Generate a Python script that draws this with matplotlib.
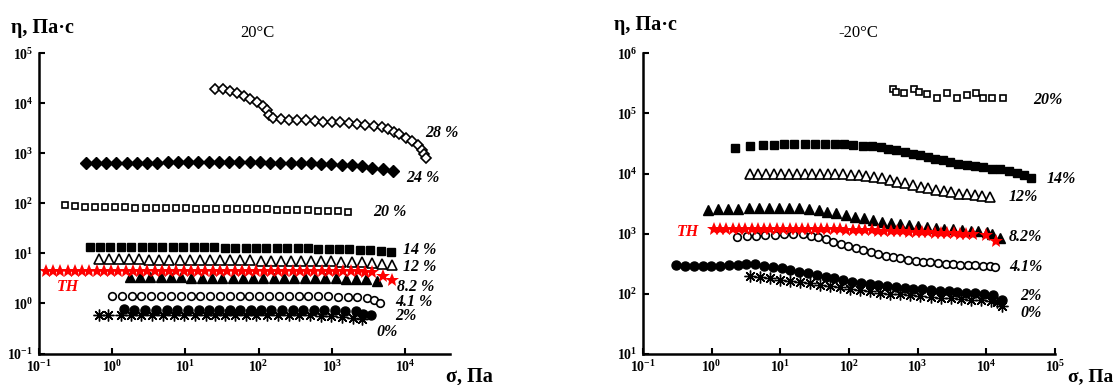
import matplotlib
matplotlib.use('Agg')
import matplotlib.pyplot as plt
from matplotlib.ticker import NullLocator

plt.rcParams['font.family'] = ['Liberation Serif', 'DejaVu Serif']
plt.rcParams['mathtext.fontset'] = 'custom'
plt.rcParams['mathtext.rm'] = 'Liberation Serif'
plt.rcParams['mathtext.bf'] = 'Liberation Serif:bold'
plt.rcParams['mathtext.it'] = 'Liberation Serif:italic'

# ---------------- 20 C : shear stress (Pa) vs viscosity (Pa*s) ----------------
sig28 = [25.4, 32.7, 41.0, 51.4, 63.0, 75.9, 94.2, 115, 132, 139, 157, 201, 258, 337, 442, 578,
         757, 991, 1294, 1694, 2218, 2864, 3707, 4742, 5808, 6950, 8318, 10160, 12450, 14860,
         17020, 18200, 19050]
eta28 = [19200, 19200, 18000, 16300, 14200, 12300, 10800, 8960, 7220, 5850, 5100, 4940, 4720,
         4570, 4570, 4450, 4310, 4170, 4170, 4060, 3810, 3640, 3470, 3320, 3080, 2720, 2410,
         2070, 1730, 1440, 1160, 964, 803]

sig24 = [0.44, 0.606, 0.836, 1.15, 1.59, 2.19, 3.03, 4.17, 5.75, 7.93, 10.9, 15.1, 20.8, 28.7,
         39.5, 54.6, 75.3, 104, 143, 197, 272, 376, 518, 714, 984, 1358, 1875, 2582, 3565, 4909,
         6776]
eta24 = [631, 635, 640, 645, 650, 650, 655, 655, 660, 660, 660, 665, 665, 665, 665, 665, 660,
         660, 655, 650, 645, 640, 630, 615, 605, 593, 575, 550, 515, 495, 437]

sig20 = [0.226, 0.311, 0.428, 0.587, 0.807, 1.11, 1.52, 2.09, 2.88, 3.95, 5.43, 7.46, 10.3,
         14.1, 19.4, 26.6, 36.6, 50.2, 69.0, 94.8, 130, 179, 246, 338, 465, 638, 877, 1205, 1656]
eta20 = [92, 88, 86, 85, 84, 83, 83, 82, 82, 81, 81, 80, 80, 79, 79, 78, 78, 77, 77, 76, 76, 75,
         74, 74, 73, 72, 71, 70, 68]

sig14 = [0.497, 0.689, 0.953, 1.32, 1.83, 2.54, 3.52, 4.88, 6.76, 9.36, 13.0, 18.0, 24.9, 34.5,
         47.9, 66.4, 91.8, 127, 177, 244, 339, 470, 652, 902, 1250, 1734, 2399, 3327, 4613, 6383]
eta14 = [13.4, 13.5, 13.6, 13.6, 13.6, 13.5, 13.5, 13.4, 13.4, 13.3, 13.3, 13.2, 13.2, 13.1,
         13.1, 13.0, 13.0, 12.9, 12.9, 12.8, 12.7, 12.6, 12.5, 12.4, 12.3, 12.1, 11.9, 11.6,
         11.2, 10.7]

sig12 = [0.658, 0.904, 1.24, 1.71, 2.34, 3.22, 4.43, 6.08, 8.36, 11.5, 15.8, 21.7, 29.8, 40.9,
         56.2, 77.3, 106, 146, 200, 275, 378, 520, 714, 982, 1349, 1854, 2547, 3499, 4808, 6607]
eta12 = [7.6, 7.6, 7.6, 7.6, 7.6, 7.5, 7.5, 7.5, 7.5, 7.4, 7.4, 7.4, 7.4, 7.3, 7.3, 7.3, 7.2,
         7.2, 7.2, 7.1, 7.1, 7.0, 7.0, 6.9, 6.8, 6.7, 6.6, 6.4, 6.2, 5.8]

sigTH = [0.125, 0.157, 0.197, 0.248, 0.311, 0.391, 0.491, 0.617, 0.774, 0.973, 1.22, 1.53, 1.93,
         2.42, 3.04, 3.82, 4.80, 6.03, 7.57, 9.51, 11.9, 15.0, 18.8, 23.7, 29.7, 37.3, 46.9,
         58.9, 74.0, 92.9, 117, 147, 184, 231, 290, 365, 458, 575, 723, 908, 1140, 1432, 1799,
         2259, 2838, 3565, 4990, 6607]
etaTH = [4.5, 4.5, 4.5, 4.5, 4.5, 4.5, 4.5, 4.5, 4.5, 4.5, 4.5, 4.5, 4.5, 4.5, 4.5, 4.5, 4.5,
         4.5, 4.5, 4.5, 4.5, 4.5, 4.5, 4.5, 4.5, 4.5, 4.5, 4.5, 4.5, 4.5, 4.5, 4.5, 4.5, 4.5,
         4.5, 4.5, 4.5, 4.5, 4.5, 4.5, 4.5, 4.45, 4.4, 4.4, 4.3, 4.2, 3.5, 2.9]

sig82 = [1.74, 2.40, 3.33, 4.59, 6.35, 8.77, 12.1, 16.7, 23.1, 32.0, 44.2, 61.0, 84.3, 116,
         161, 222, 307, 425, 586, 811, 1119, 1545, 2138, 2951, 4083]
eta82 = [3.4, 3.35, 3.35, 3.35, 3.35, 3.35, 3.3, 3.3, 3.3, 3.3, 3.3, 3.3, 3.3, 3.3, 3.3, 3.3,
         3.25, 3.25, 3.25, 3.2, 3.2, 3.15, 3.1, 3.05, 2.8]

sig41 = [1.00, 1.36, 1.85, 2.52, 3.43, 4.67, 6.36, 8.65, 11.8, 16.0, 21.8, 29.7, 40.4, 55.0,
         74.9, 102, 139, 189, 257, 350, 476, 648, 883, 1202, 1636, 2228, 3013, 3767, 4508]
eta41 = [1.40, 1.40, 1.40, 1.40, 1.40, 1.40, 1.40, 1.40, 1.40, 1.40, 1.40, 1.40, 1.40, 1.40,
         1.40, 1.40, 1.40, 1.40, 1.40, 1.40, 1.40, 1.39, 1.38, 1.37, 1.36, 1.33, 1.27, 1.16, 1.03]

sig2 = [1.44, 2.02, 2.83, 3.96, 5.54, 7.74, 10.8, 15.2, 21.2, 29.1, 40.2, 56.3, 78.0, 108, 149,
        209, 292, 409, 561, 785, 1099, 1503, 2104, 2692, 3373]
eta2 = [0.76, 0.75, 0.75, 0.75, 0.75, 0.75, 0.75, 0.75, 0.75, 0.75, 0.75, 0.75, 0.75, 0.75,
        0.75, 0.75, 0.75, 0.74, 0.74, 0.74, 0.73, 0.72, 0.71, 0.63, 0.575]

sig0 = [0.658, 0.889, 1.32, 1.80, 2.52, 3.53, 4.94, 6.92, 9.68, 13.6, 19.0, 25.4, 34.8, 47.6,
        66.6, 93.3, 131, 183, 256, 358, 501, 701, 982, 1374, 1923, 2547]
eta0 = [0.575, 0.575, 0.575, 0.575, 0.575, 0.575, 0.575, 0.575, 0.575, 0.575, 0.575, 0.575,
        0.575, 0.575, 0.575, 0.575, 0.575, 0.575, 0.575, 0.575, 0.575, 0.57, 0.56, 0.54,
        0.52, 0.48]

# ---------------- -20 C ----------------
rsig20 = [437, 478, 631, 883, 1045, 1384, 1936, 2649, 3793, 5309, 7015, 9078, 12270, 17780]
reta20 = [255000, 224000, 216000, 255000, 230000, 208000, 178000, 216000, 178000, 202000,
          216000, 178000, 178000, 178000]

rsig14 = [2.19, 3.66, 5.56, 7.96, 11.4, 16.0, 22.8, 31.9, 44.6, 62.4, 85.1, 116, 162, 216, 288,
          375, 488, 650, 845, 1074, 1397, 1774, 2312, 3006, 3908, 5212, 6776, 9036, 12050,
          16030, 21380, 27800, 35300, 44900]
reta14 = [27100, 28500, 29700, 30400, 30800, 31200, 31200, 31600, 31600, 31200, 30800, 30100,
          29300, 28500, 27500, 26100, 24500, 22700, 21300, 20000, 18900, 17800, 16700, 15600,
          14700, 13900, 13400, 12800, 12100, 11700, 11100, 10300, 9500, 8360]

rsig12 = [3.66, 4.75, 6.15, 7.98, 10.3, 13.4, 17.4, 22.5, 29.2, 37.8, 49.0, 63.5, 82.2, 107, 138,
          179, 232, 301, 390, 505, 655, 849, 1100, 1426, 1847, 2393, 3105, 4018, 5212, 6745,
          8750, 11350]
reta12 = [10000, 10000, 10000, 10000, 10000, 10000, 10000, 10000, 9950, 9900, 9850, 9800, 9700,
          9600, 9450, 9200, 8800, 8300, 7800, 7300, 6850, 6400, 6000, 5650, 5300, 5050, 4850,
          4650, 4500, 4350, 4200, 4100]

rsig82 = [0.893, 1.25, 1.74, 2.43, 3.50, 4.88, 6.82, 9.51, 13.3, 18.9, 25.8, 36.0, 48.6, 65.7,
          89.7, 122, 165, 225, 304, 415, 548, 740, 1010, 1361, 1841, 2455, 3313, 4467, 5970,
          7620, 10070, 12160, 15670]
reta82 = [2500, 2550, 2600, 2620, 2650, 2680, 2700, 2720, 2720, 2680, 2600, 2480, 2310, 2180,
          2040, 1910, 1800, 1690, 1580, 1520, 1445, 1390, 1340, 1290, 1255, 1220, 1190, 1160,
          1130, 1100, 1050, 972, 855]

rsigTH = [1.07, 1.32, 1.63, 2.02, 2.49, 3.08, 3.81, 4.71, 5.82, 7.19, 8.89, 11.0, 13.6, 16.8,
          20.7, 25.6, 31.7, 39.2, 48.4, 59.8, 74.0, 91.4, 113, 140, 173, 213, 264, 326, 403,
          498, 615, 760, 940, 1161, 1435, 1774, 2193, 2710, 3350, 4140, 5117, 6324, 10000, 13900]
retaTH = [1200, 1200, 1200, 1200, 1200, 1200, 1200, 1200, 1200, 1200, 1200, 1200, 1200, 1200,
          1200, 1200, 1200, 1195, 1190, 1185, 1180, 1175, 1170, 1160, 1150, 1140, 1130, 1120,
          1110, 1100, 1090, 1080, 1070, 1060, 1050, 1040, 1030, 1020, 1010, 1000, 990, 980,
          950, 760]

rsig41 = [2.31, 3.23, 4.41, 6.03, 8.34, 11.4, 15.4, 21.1, 27.5, 35.6, 46.0, 58.9, 75.2, 97.3,
          126, 161, 208, 266, 344, 439, 561, 726, 940, 1200, 1535, 1986, 2565, 3281, 4198,
          5420, 6934, 8954, 11200, 13240]
reta41 = [867, 900, 922, 950, 960, 972, 985, 972, 922, 867, 803, 733, 671, 622, 569, 527, 488,
          458, 429, 408, 388, 368, 354, 340, 333, 324, 316, 308, 304, 300, 297, 293, 289, 278]

rsig2 = [0.304, 0.408, 0.548, 0.736, 0.989, 1.33, 1.78, 2.39, 3.21, 4.32, 5.79, 7.78, 10.4,
         14.0, 18.8, 25.3, 34.0, 45.6, 61.2, 82.2, 110, 148, 199, 267, 359, 482, 647, 869,
         1167, 1567, 2104, 2825, 3793, 5093, 6839, 9183, 12330, 16630]
reta2 = [300, 295, 290, 290, 292, 295, 300, 305, 310, 308, 292, 278, 266, 250, 233, 219, 205,
         194, 181, 170, 158, 152, 145, 139, 133, 128, 125, 122, 119, 116, 113, 110, 106, 104,
         102, 99, 95, 78]

rsig0 = [3.59, 5.03, 7.05, 9.87, 13.8, 19.3, 27.1, 37.9, 53.1, 74.3, 104, 146, 204, 286, 400,
         561, 785, 1099, 1538, 2153, 3020, 4227, 5916, 8279, 11610, 14520, 17180]
reta0 = [197, 192, 182, 173, 164, 157, 149, 141, 134, 128, 121, 115, 110, 105, 101, 97.7, 94,
         90.5, 88.1, 85.9, 83.8, 81.7, 79.5, 77.6, 75.6, 72.8, 62]

W, H = 1119, 385
fig = plt.figure(figsize=(W / 100, H / 100), dpi=100)


def fx(x):
    return x / W


def fy(y):
    return 1 - y / H


ax1 = fig.add_axes([fx(38.7), fy(353.5), fx(411.3), 300.2 / H])
ax2 = fig.add_axes([fx(643), fy(354), fx(412), 300.7 / H])

open_kw = dict(mfc='white', mec='black', mew=1.2, ls='none')
fill_kw = dict(mfc='black', mec='black', ls='none')
star_kw = dict(color='red', marker='*', ms=10, ls='none', mew=0)
ast_kw = dict(color='black', marker=(8, 2, 0), ms=8.5, mew=1.0, ls='none')

# left panel
ax1.plot(sig28, eta28, marker='D', ms=5.5, **open_kw)
ax1.plot(sig24, eta24, marker='D', ms=6.5, **fill_kw)
ax1.plot(sig20, eta20, marker='s', ms=4.8, **open_kw)
ax1.plot(sig14, eta14, marker='s', ms=6, **fill_kw)
ax1.plot(sig12, eta12, marker='^', ms=6.5, **open_kw)
ax1.plot(sig82, eta82, marker='^', ms=7, **fill_kw)
ax1.plot(sig41, eta41, marker='o', ms=5.5, **open_kw)
ax1.plot(sig2, eta2, marker='o', ms=6.5, **fill_kw)
ax1.plot(sig0, eta0, **ast_kw)
ax1.plot(sigTH, etaTH, **star_kw)

# right panel
ax2.plot(rsig20, reta20, marker='s', ms=4.8, **open_kw)
ax2.plot(rsig14, reta14, marker='s', ms=6, **fill_kw)
ax2.plot(rsig12, reta12, marker='^', ms=6.5, **open_kw)
ax2.plot(rsig82, reta82, marker='^', ms=7, **fill_kw)
ax2.plot(rsig41, reta41, marker='o', ms=5.5, **open_kw)
ax2.plot(rsig2, reta2, marker='o', ms=6.5, **fill_kw)
ax2.plot(rsig0, reta0, **ast_kw)
ax2.plot(rsigTH, retaTH, **star_kw)

for ax, xexp, yexp in [(ax1, range(-1, 5), range(-1, 6)), (ax2, range(-1, 6), range(1, 7))]:
    ax.set_xscale('log')
    ax.set_yscale('log')
    ax.spines['top'].set_visible(False)
    ax.spines['right'].set_visible(False)
    ax.spines['left'].set_linewidth(1.8)
    ax.spines['bottom'].set_linewidth(1.8)
    ax.set_xticks([10.0 ** k for k in xexp])
    ax.set_xticklabels([r'$\mathbf{10^{%d}}$' % k for k in xexp])
    ax.set_yticks([10.0 ** k for k in yexp])
    ax.set_yticklabels([r'$\mathbf{10^{%d}}$' % k for k in yexp])
    ax.xaxis.set_minor_locator(NullLocator())
    ax.yaxis.set_minor_locator(NullLocator())
    ax.tick_params(direction='in', length=4, width=1.5, labelsize=10, pad=4)
    ax.patch.set_visible(False)

ax1.set_xlim(0.1, 10 ** 4.61)
ax1.set_ylim(0.1, 1e5)
ax2.set_xlim(0.1, 1e5)
ax2.set_ylim(10, 1e6)

lab = dict(fontsize=11.5, fontweight='bold', style='italic', ha='left', va='center')
ax1.text(18450, 2570, '28 %', **lab)
ax1.text(10280, 325, '24 %', **lab)
ax1.text(3640, 67.9, '20 %', **lab)
ax1.text(9420, 11.6, '14 %', **lab)
ax1.text(9420, 5.4, '12 %', **lab)
ax1.text(7780, 2.15, '8.2 %', **lab)
ax1.text(7350, 1.08, '4.1 %', **lab)
ax1.text(7350, 0.557, '2%', **lab)
ax1.text(4060, 0.27, '0%', **lab)
ax1.text(0.178, 2.09, 'TH', color='red', **lab)

ax2.text(48000, 170000, '20%', **lab)
ax2.text(76700, 8000, '14%', **lab)
ax2.text(21400, 4110, '12%', **lab)
ax2.text(21400, 887, '8.2%', **lab)
ax2.text(21400, 275, '4.1%', **lab)
ax2.text(31300, 91.6, '2%', **lab)
ax2.text(31300, 47.2, '0%', **lab)
ax2.text(0.313, 1077, 'TH', color='red', **lab)

for ax in (ax1, ax2):
    for t in ax.texts:
        t.set_clip_on(False)

fig.text(fx(257), fy(33), '20°C', fontsize=12, ha='center', va='center')
fig.text(fx(858), fy(33), '-20°C', fontsize=12, ha='center', va='center')
fig.text(fx(10.7), fy(28), 'η, Па·с', fontsize=14.5, fontweight='bold', ha='left', va='center')
fig.text(fx(613.6), fy(25), 'η, Па·с', fontsize=14.5, fontweight='bold', ha='left', va='center')
fig.text(fx(446), fy(377), 'σ, Па', fontsize=14.5, fontweight='bold', ha='left', va='center')
fig.text(fx(1068), fy(377), 'σ, Па', fontsize=14, fontweight='bold', ha='left', va='center')

fig.savefig('out.png', dpi=100)
